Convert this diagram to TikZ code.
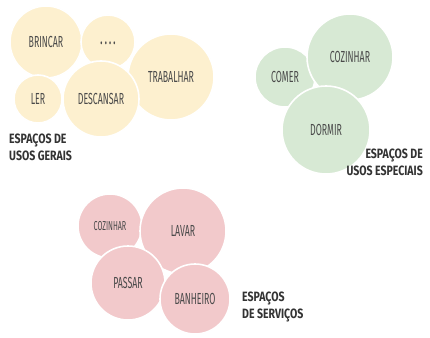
\documentclass[tikz,border=0pt]{standalone}
\usepackage{fontspec}
\newfontfamily\hand[FakeStretch=0.55]{Fira Sans}
\newfontfamily\lab[FakeStretch=0.78]{Fira Sans}
\definecolor{yel}{HTML}{FDF0CF}
\definecolor{grn}{HTML}{D7E9D4}
\definecolor{pnk}{HTML}{F2C9CB}
\definecolor{txt}{HTML}{4A4A4A}
\definecolor{labc}{HTML}{333333}
\begin{document}
\begin{tikzpicture}[x=1pt,y=-1pt,
  bub/.style={circle,draw=white,line width=1.6pt,inner sep=0pt,text=txt,font=\hand\fontsize{16}{16}\selectfont},
  yb/.style={bub,fill=yel},
  gb/.style={bub,fill=grn},
  pb/.style={bub,fill=pnk},
  grp/.style={text=labc,font=\lab\bfseries\fontsize{13.5}{17}\selectfont,inner sep=0pt}]
\fill[white] (0,0) rectangle (430,337);
\useasboundingbox (0,0) rectangle (430,337);
% yellow group
\node[yb,minimum size=72pt] (brincar) at (46,42) {BRINCAR};
\node[yb,minimum size=54pt] (dots) at (108,42) {\raisebox{-6pt}{\bfseries .\hspace{2.2pt}.\hspace{2.2pt}.\hspace{2.2pt}.}};
\node[yb,minimum size=86pt] (trabalhar) at (171,77) {TRABALHAR};
\node[yb,minimum size=48pt] (ler) at (38,99) {LER};
\node[yb,minimum size=76pt] (descansar) at (101,99) {DESCANSAR};
\node[grp,align=left,anchor=north west] (gerais) at (9,134) {ESPAÇOS DE\\USOS GERAIS};
% green group
\node[gb,minimum size=60pt] (comer) at (285,77) {COMER};
\node[gb,minimum size=86pt] (cozinhar) at (350,57) {COZINHAR};
\node[gb,minimum size=88pt] (dormir) at (326,130) {DORMIR};
\node[grp,align=right,anchor=north east] (especiais) at (423,149) {ESPAÇOS DE\\USOS ESPECIAIS};
% pink group
\node[pb,minimum size=64pt,font=\hand\fontsize{13}{13}\selectfont] (cozinhar2) at (110,226) {COZINHAR};
\node[pb,minimum size=86pt] (lavar) at (183,231) {LAVAR};
\node[pb,minimum size=74pt] (passar) at (128,283) {PASSAR};
\node[pb,minimum size=70pt] (banheiro) at (195,299) {BANHEIRO};
\node[grp,align=left,anchor=north west] (servicos) at (242,292) {ESPAÇOS\\DE SERVIÇOS};
\end{tikzpicture}
\end{document}
